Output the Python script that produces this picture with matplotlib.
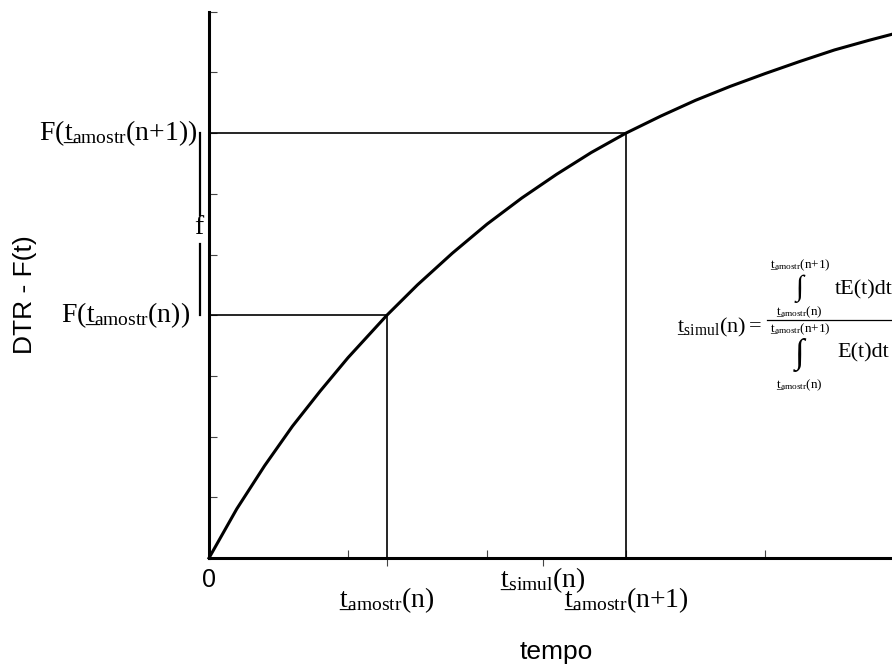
import matplotlib
matplotlib.use("Agg")
import matplotlib.pyplot as plt

# cumulative distribution curve F(t)
tempo = [0.0, 0.2, 0.4, 0.6, 0.8, 1.0, 1.28, 1.5, 1.75, 2.0, 2.25, 2.5,
         2.75, 3.0, 3.25, 3.5, 3.75, 4.0, 4.25, 4.5, 4.75, 5.0]
dtr_F = [0.0, 0.081, 0.152, 0.217, 0.275, 0.330, 0.400, 0.450, 0.502,
         0.550, 0.593, 0.632, 0.668, 0.700, 0.728, 0.754, 0.777, 0.798,
         0.818, 0.837, 0.853, 0.868]

# sampling instants and their F values
t_amostr = [1.28, 3.0]
F_amostr = [0.40, 0.70]
t_simul = 2.4

plt.rcParams['mathtext.fontset'] = 'custom'
plt.rcParams['mathtext.rm'] = 'Liberation Serif'
plt.rcParams['mathtext.it'] = 'Liberation Serif:italic'

SERIF = 'Liberation Serif'
SANS = 'Liberation Sans'

# underlined t: draw the underscore, step back, then the t on top of it
T_UL = r'\mathrm{\_}\!\!\!\!\mathrm{t}'
T_AM = T_UL + r'_{\mathrm{amostr}}'
T_SI = T_UL + r'_{\mathrm{simul}}'
N0 = r'\mathrm{(n)}'
N1 = r'\mathrm{(n{+}1)}'

fig = plt.figure(figsize=(8.92, 6.64), dpi=100)
ax = fig.add_axes([209 / 892, 106 / 664, 695 / 892, 546.3 / 664])

ax.plot(tempo, dtr_F, color='black', lw=2.2, clip_on=False, zorder=3,
        solid_joinstyle='round')

# guide lines from the axes to the curve
for t, F in zip(t_amostr, F_amostr):
    ax.plot([0, t], [F, F], color='black', lw=1.2)
    ax.plot([t, t], [0, F], color='black', lw=1.2)

ax.set_xlim(0, 5)
ax.set_ylim(0, 0.9)
for side in ['top', 'right']:
    ax.spines[side].set_visible(False)
for side in ['left', 'bottom']:
    ax.spines[side].set_linewidth(2.2)

ax.set_yticks([0.1 * i for i in range(1, 10)])
ax.set_xticks([1, 2, 3, 4])
ax.set_xticks(t_amostr + [t_simul], minor=True)
ax.tick_params(which='major', direction='in', length=6, width=0.8,
               color='#444444', labelbottom=False, labelleft=False)
ax.tick_params(which='minor', axis='x', direction='out', length=6,
               width=0.8, color='#444444')
ax.tick_params(which='minor', axis='y', left=False)

ax.set_ylabel('DTR - F(t)', fontsize=19, family=SANS)
ax.yaxis.set_label_coords(-0.247, 0.482)
ax.set_xlabel('tempo', fontsize=19, family=SANS)
ax.xaxis.set_label_coords(0.499, -0.150)

# labels on the time axis
ax.text(0, -0.036, '0', fontsize=18, family=SANS, ha='center', va='center')
ax.text(t_amostr[0], -0.070, '$' + T_AM + N0 + '$', fontsize=20,
        ha='center', va='center')
ax.text(t_simul, -0.036, '$' + T_SI + N0 + '$', fontsize=20,
        ha='center', va='center')
ax.text(t_amostr[1], -0.070, '$' + T_AM + N1 + '$', fontsize=20,
        ha='center', va='center')

# labels on the F axis
ax.text(-0.086, F_amostr[1], r'$\mathrm{F(}' + T_AM + N1 + r'\mathrm{)}$',
        fontsize=20, ha='right', va='center', clip_on=False)
ax.text(-0.135, F_amostr[0], r'$\mathrm{F(}' + T_AM + N0 + r'\mathrm{)}$',
        fontsize=20, ha='right', va='center', clip_on=False)
ax.plot([-0.065, -0.065], [F_amostr[0], 0.518], color='black', lw=1.6,
        clip_on=False)
ax.plot([-0.065, -0.065], [0.565, F_amostr[1]], color='black', lw=1.6,
        clip_on=False)
ax.text(-0.072, 0.545, 'f', fontsize=20, family=SERIF, ha='center',
        va='center')

# mean residence time over the sampling interval
ax.text(3.37, 0.379, '$' + T_SI + N0 + ' =$', fontsize=16,
        ha='left', va='center')
ax.plot([4.015, 5.2], [0.392, 0.392], color='black', lw=0.9, clip_on=False)
fraction = [
    # integral centre, its size, upper limit, lower limit, integrand
    (0.443, 21, 0.483, 0.405, 'tE(t)dt', 4.505, 0.4415),
    (0.334, 25, 0.376, 0.285, 'E(t)dt', 4.52, 0.338),
]
for y_int, size, y_up, y_lo, body, x_body, y_body in fraction:
    ax.text(4.25, y_int, '\u222b', fontsize=size, family=SERIF,
            ha='center', va='center')
    ax.text(4.253, y_up, '$' + T_AM + N1 + '$', fontsize=9.5,
            ha='center', va='center')
    ax.text(4.25, y_lo, '$' + T_AM + N0 + '$', fontsize=9.5,
            ha='center', va='center')
    ax.text(x_body, y_body, body, fontsize=16, family=SERIF, ha='left',
            va='center')

fig.savefig('out.png', dpi=100)
